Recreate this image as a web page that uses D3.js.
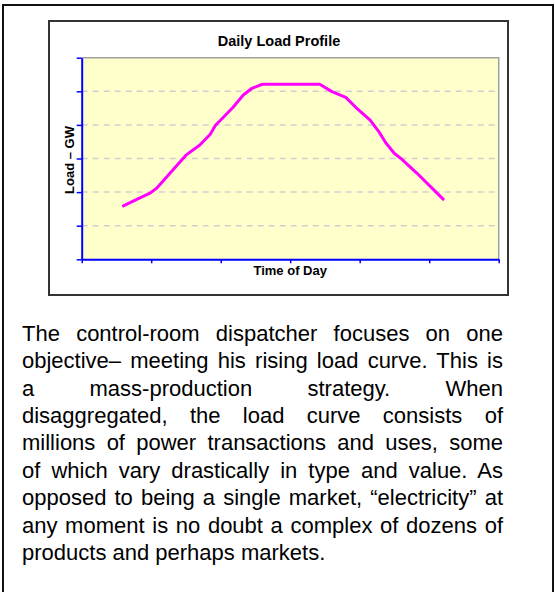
<!DOCTYPE html>
<html>
<head>
<meta charset="utf-8">
<script src="https://cdn.jsdelivr.net/npm/d3@7"></script>
<style>
  html, body { margin: 0; padding: 0; background: #fff; }
  body { width: 555px; height: 592px; position: relative; overflow: hidden; }
  svg { position: absolute; left: 0; top: 0; }
  #para {
    position: absolute; left: 22px; top: 319.7px; width: 481px;
    font-family: "Liberation Sans", Arial, sans-serif; font-size: 22px;
    line-height: 27.4px; color: #000;
  }
  #para div { text-align: justify; text-align-last: justify; white-space: nowrap; }
  #para div.last { text-align-last: left; }
</style>
</head>
<body>
<svg id="chart" width="555" height="592"></svg>
<div id="para"></div>
<script>
// ---- data ----
const hours = [2.4, 3.2, 3.9, 4.3, 6.0, 6.8, 7.4, 7.7, 8.1, 8.7, 9.3, 9.8, 10.4, 13.7, 14.4, 15.2, 15.9, 16.6, 17.1, 17.5, 18.0, 18.4, 19.3, 20.8];
const load  = [1.59, 1.79, 1.96, 2.11, 3.10, 3.40, 3.72, 3.99, 4.20, 4.52, 4.89, 5.09, 5.21, 5.21, 4.99, 4.82, 4.46, 4.14, 3.80, 3.47, 3.15, 2.99, 2.56, 1.79];
const xTicks = [0, 4, 8, 12, 16, 20, 24];
const yTicks = [0, 1, 2, 3, 4, 5, 6];
const title = "Daily Load Profile";
const xLabel = "Time of Day";
const yLabel = "Load \u2013 GW";
const paragraphLines = [
  "The control-room dispatcher focuses on one",
  "objective\u2013 meeting his rising load curve.  This is",
  "a mass-production strategy. When",
  "disaggregated, the load curve consists of",
  "millions of power transactions and uses, some",
  "of which vary drastically in type and value.  As",
  "opposed to being a single market, \u201celectricity\u201d at",
  "any moment is no doubt a complex of dozens of",
  "products and perhaps markets."
];

const svg = d3.select("#chart");

// outer border
svg.append("rect").attr("x", 3).attr("y", 5).attr("width", 550).attr("height", 620)
  .attr("fill", "none").attr("stroke", "#111").attr("stroke-width", 2);
// chart frame
svg.append("rect").attr("x", 49).attr("y", 21).attr("width", 459).attr("height", 274)
  .attr("fill", "#fff").attr("stroke", "#333").attr("stroke-width", 2);

const plot = { left: 81.7, right: 498.7, top: 57.7, bottom: 259.3 };
const x = d3.scaleLinear().domain([0, 24]).range([plot.left, plot.right]);
const y = d3.scaleLinear().domain([0, 6]).range([plot.bottom, plot.top]);

// plot background
svg.append("rect").attr("x", plot.left).attr("y", plot.top)
  .attr("width", plot.right - plot.left).attr("height", plot.bottom - plot.top)
  .attr("fill", "#ffffcc");
// top & right border (gray)
svg.append("path")
  .attr("d", `M${plot.left},${plot.top}H${plot.right}V${plot.bottom}`)
  .attr("fill", "none").attr("stroke", "#a0a0a0").attr("stroke-width", 1.5);

// gridlines
svg.append("g").selectAll("line").data(yTicks.filter(d => d > 0 && d < 6)).join("line")
  .attr("x1", plot.left).attr("x2", plot.right - 2)
  .attr("y1", d => y(d)).attr("y2", d => y(d))
  .attr("stroke", "#cfcfcf").attr("stroke-width", 1.5).attr("stroke-dasharray", "6,5");

// axes
const yAxis = svg.append("g").attr("transform", `translate(${plot.left},0)`)
  .call(d3.axisLeft(y).tickValues(yTicks).tickFormat("").tickSize(5).tickSizeOuter(0));
const xAxis = svg.append("g").attr("transform", `translate(0,${plot.bottom})`)
  .call(d3.axisBottom(x).tickValues(xTicks).tickFormat("").tickSize(4).tickSizeOuter(0));
[yAxis, xAxis].forEach(g => {
  g.select(".domain").attr("stroke", "#0000ff").attr("stroke-width", 2);
  g.selectAll(".tick line").attr("stroke", "#0000ff").attr("stroke-width", 1.5);
});

// load curve
const pts = hours.map((h, i) => [h, load[i]]);
svg.append("path").datum(pts)
  .attr("d", d3.line().x(d => x(d[0])).y(d => y(d[1])))
  .attr("fill", "none").attr("stroke", "#ff00ff").attr("stroke-width", 3)
  .attr("stroke-linejoin", "round").attr("stroke-linecap", "round");

// texts
const font = "'Liberation Sans', Arial, sans-serif";
svg.append("text").attr("x", 279).attr("y", 46).attr("text-anchor", "middle")
  .attr("font-family", font).attr("font-weight", "bold").attr("font-size", 14.5).text(title);
svg.append("text").attr("x", (plot.left + plot.right) / 2).attr("y", 275).attr("text-anchor", "middle")
  .attr("font-family", font).attr("font-weight", "bold").attr("font-size", 13).text(xLabel);
svg.append("text").attr("transform", "translate(74,160) rotate(-90)").attr("text-anchor", "middle")
  .attr("font-family", font).attr("font-weight", "bold").attr("font-size", 13).text(yLabel);

// paragraph
d3.select("#para").selectAll("div").data(paragraphLines).join("div")
  .classed("last", (d, i) => i === paragraphLines.length - 1)
  .style("white-space", (d, i) => i === paragraphLines.length - 1 ? "nowrap" : "normal")
  .text(d => d);
</script>
</body>
</html>
